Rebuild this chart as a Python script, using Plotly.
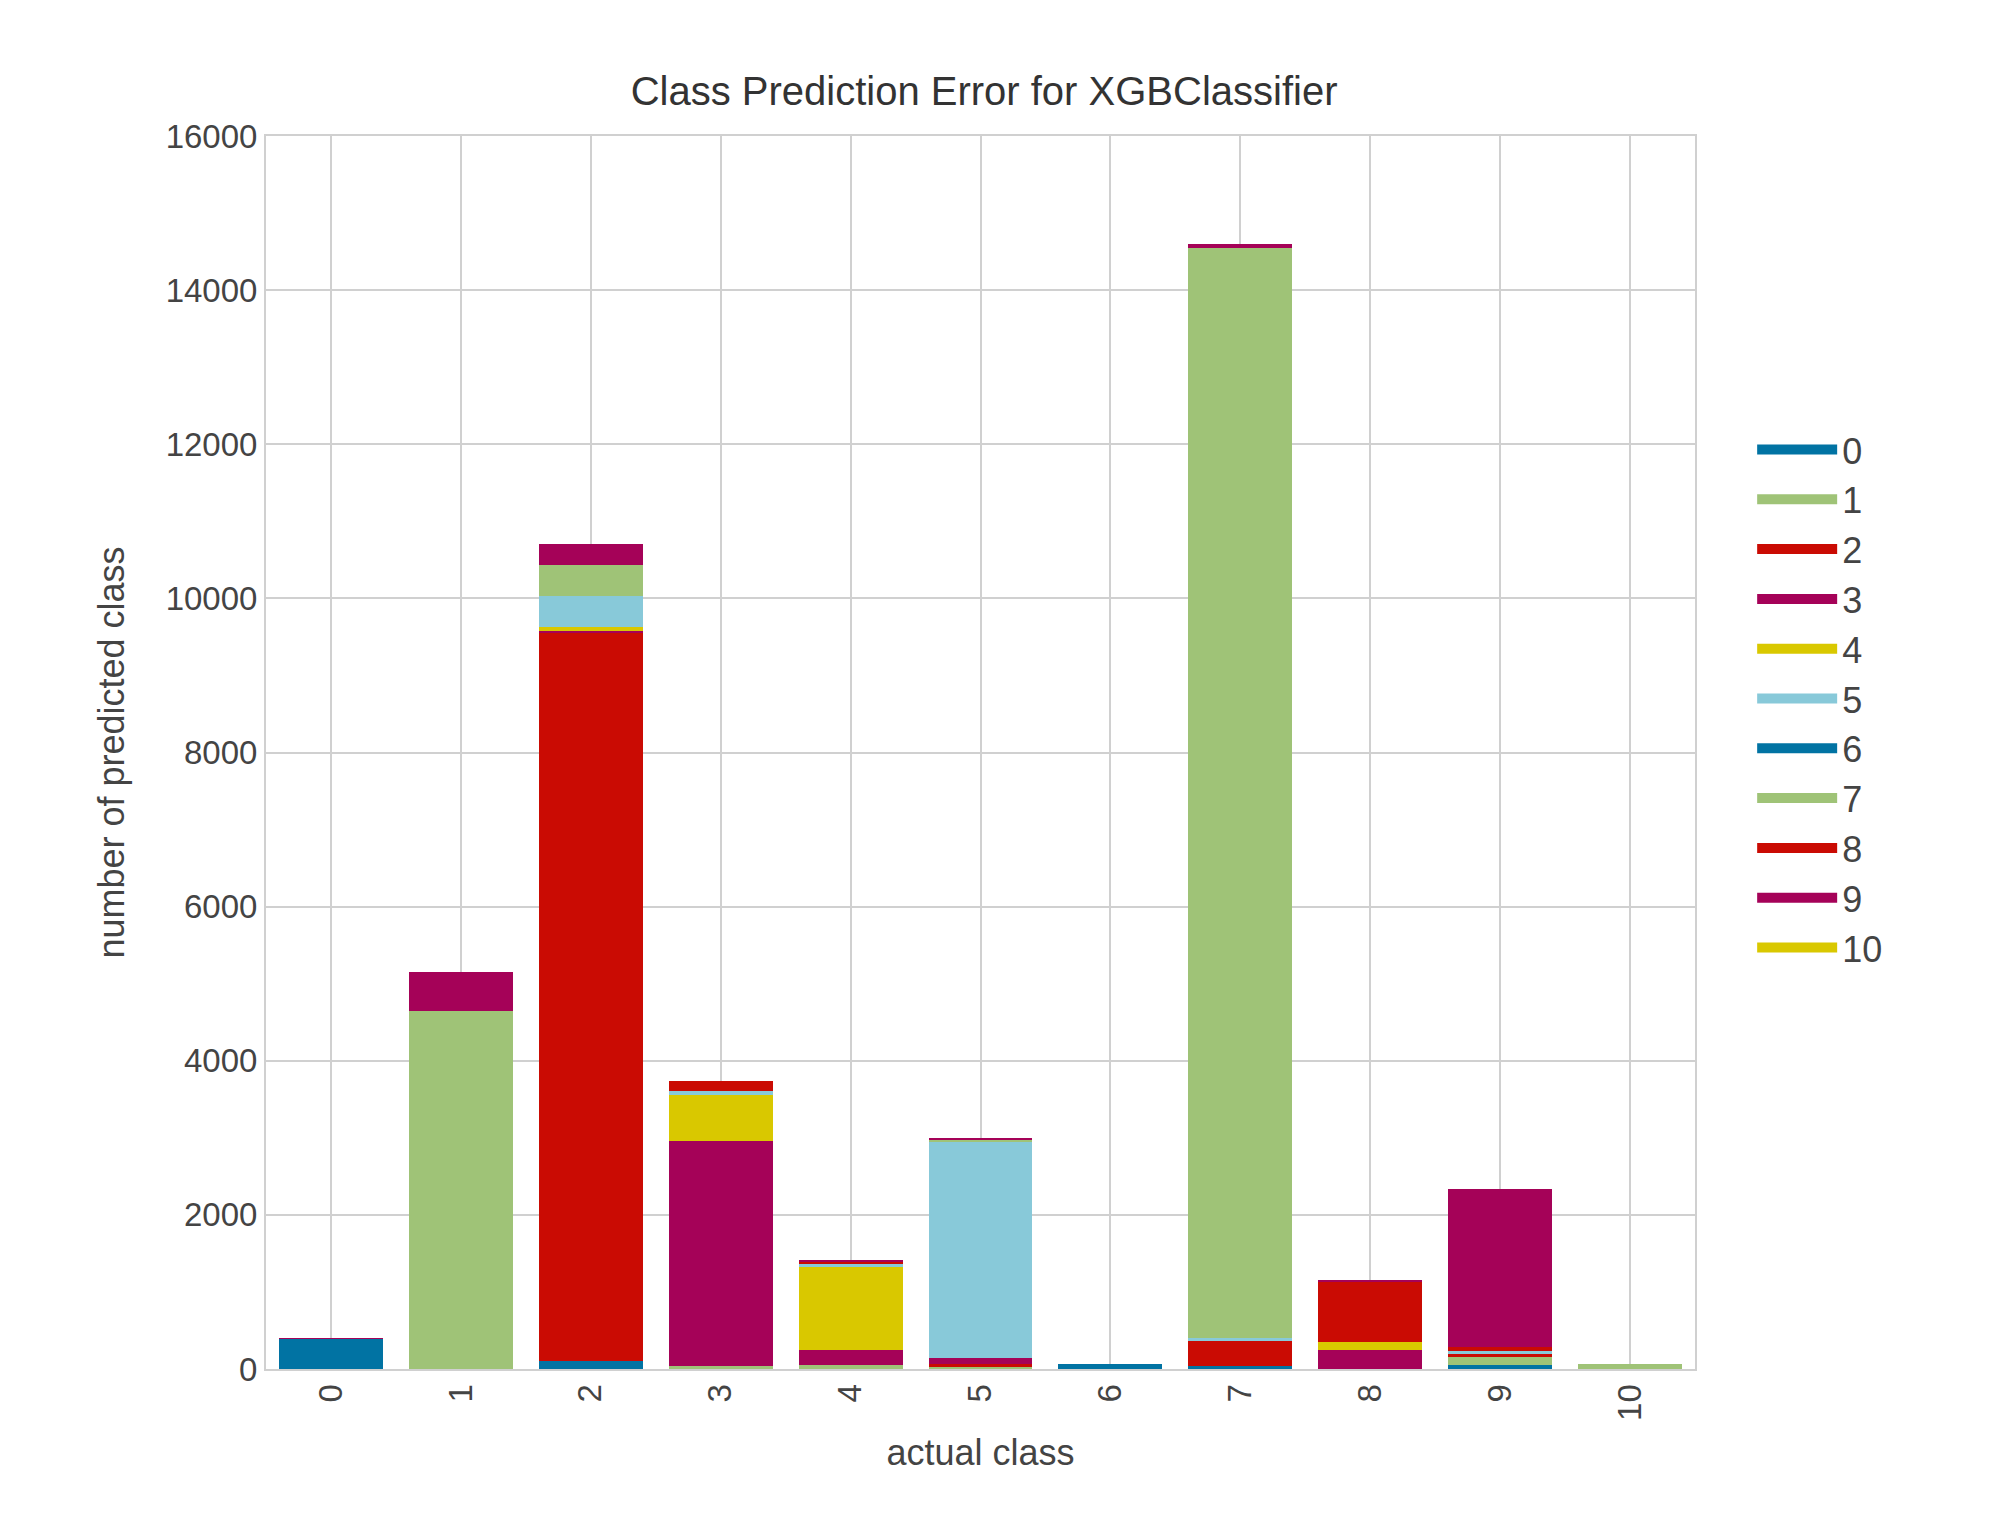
import plotly.graph_objects as go

actual = ["0","1","2","3","4","5","6","7","8","9","10"]
pred_labels = ["0","1","2","3","4","5","6","7","8","9","10"]
# rows: predicted class, values per actual class
p0  = [390, 0,   100, 0,    0,    0,    30, 40,    0,   50,   0]
p1  = [0,   4650,0,   40,   50,   30,   0,  0,     0,   100,  60]
p2  = [0,   0,   9450,0,    0,    40,   0,  320,   0,   50,   0]
p3  = [10,  500, 30,  2920, 200,  70,   0,  0,     250, 0,    0]
p4  = [0,   0,   50,  600,  1070, 0,    0,  0,     100, 0,    0]
p5  = [0,   0,   400, 50,   40,   2800, 0,  40,    0,   40,   0]
p6  = [0,   0,   0,   0,    0,    0,    30, 0,     0,   0,    0]
p7  = [0,   0,   400, 0,    0,    30,   0,  14150, 0,   0,    0]
p8  = [0,   0,   0,   130,  30,   0,    0,  0,     780, 40,   0]
p9  = [0,   0,   280, 0,    20,   30,   0,  50,    20,  2050, 0]
p10 = [0,   0,   0,   0,    0,    0,    0,  0,     0,   0,    0]
series = [p0, p1, p2, p3, p4, p5, p6, p7, p8, p9, p10]
colors = ["#0173a3", "#9fc377", "#ca0b03", "#a50258", "#d9c800", "#88c9d9",
          "#0173a3", "#9fc377", "#ca0b03", "#a50258", "#d9c800"]
yticks = list(range(0, 16001, 2000))

fig = go.Figure()
for lab, vals, c in zip(pred_labels, series, colors):
    fig.add_trace(go.Bar(x=actual, y=vals, name=lab, marker_color=c,
                         marker_line_width=0, showlegend=False, legendgroup=lab))
for lab, c in zip(pred_labels, colors):
    fig.add_trace(go.Scatter(x=[None], y=[None], mode="lines", name=lab,
                             line=dict(color=c, width=22), legendgroup=lab))

font = "Liberation Sans, Arial, sans-serif"
fig.update_layout(
    barmode="stack", bargap=0.2,
    width=1992, height=1536,
    paper_bgcolor="white", plot_bgcolor="white",
    margin=dict(l=258, r=305, t=128, b=175),
    font=dict(family=font, size=33, color="#444"),
    title=dict(text="Class Prediction Error for XGBClassifier", x=0.49, xanchor="center",
               y=0.955, font=dict(size=40, color="#333")),
    xaxis=dict(title=dict(text="actual class", font=dict(size=36, color="#444"), standoff=20),
               tickangle=-90, showgrid=True, gridcolor="#d0d0d0", gridwidth=2,
               showline=True, linecolor="#d0d0d0", linewidth=2, mirror=True,
               tickfont=dict(size=33), ticks=""),
    yaxis=dict(title=dict(text="number of predicted class", font=dict(size=36, color="#444"),
                          standoff=30),
               range=[0, 16000], tickvals=yticks, ticktext=[str(v) for v in yticks],
               showgrid=True, gridcolor="#d0d0d0", gridwidth=2, zeroline=False,
               showline=True, linecolor="#d0d0d0", linewidth=2, mirror=True,
               tickfont=dict(size=33)),
    legend=dict(x=1.04, y=0.77, yanchor="top", traceorder="normal",
                font=dict(size=36, color="#444"), itemwidth=80, tracegroupgap=12),
)
fig.write_html("out.html")
